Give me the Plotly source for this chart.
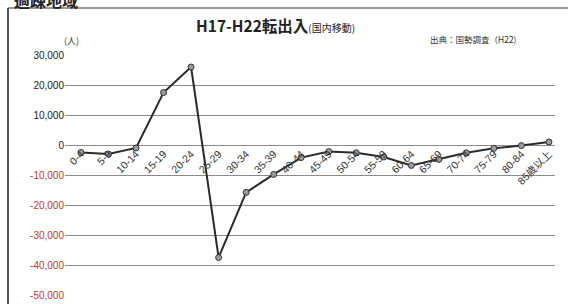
import plotly.graph_objects as go

categories = ["0-4", "5-9", "10-14", "15-19", "20-24", "25-29", "30-34", "35-39",
              "40-44", "45-49", "50-54", "55-59", "60-64", "65-69", "70-74",
              "75-79", "80-84", "85歳以上"]
values = [-2500, -3000, -1000, 17500, 26000, -37500, -15800, -9800,
          -4200, -2200, -2600, -4000, -6800, -4800, -2600, -1100, -200, 1000]

y_ticks = [30000, 20000, 10000, 0, -10000, -20000, -30000, -40000, -50000]
y_tick_labels = ["30,000", "20,000", "10,000", "0", "-10,000", "-20,000",
                 "-30,000", "-40,000", "-50,000"]

ticktext = [
    (f"<span style='color:#c0392b'>{t}</span>" if v < 0 else t)
    for v, t in zip(y_ticks, y_tick_labels)
]

fig = go.Figure()
fig.add_trace(go.Scatter(
    x=list(range(len(categories))), y=values, mode="lines+markers",
    line=dict(color="#2b2b2b", width=2),
    marker=dict(size=6, color="#9a9a9a", line=dict(color="#333", width=1)),
    hoverinfo="skip", showlegend=False,
))

W, H = 568, 304
L, R, T, B = 65, 13, 55, 9
pw, ph = W - L - R, H - T - B

def px(x):
    return (x - L) / pw

def py(y):
    return (H - B - y) / ph

fig.update_layout(
    width=W, height=H,
    margin=dict(l=L, r=R, t=T, b=B, autoexpand=False),
    paper_bgcolor="white", plot_bgcolor="white",
    font=dict(family="Liberation Sans, Noto Sans CJK JP", color="#333", size=10),
    xaxis=dict(
        range=[-0.58, 17.22], automargin=False,
        tickmode="array", tickvals=list(range(len(categories))), ticktext=categories,
        tickangle=-45, showgrid=False, zeroline=False, showline=False,
        anchor="free", position=50000 / 80000,
        tickfont=dict(size=10.5, color="#333", family="Liberation Sans, Noto Sans CJK JP"),
        ticks="",
    ),
    yaxis=dict(
        range=[-50000, 30000], automargin=False,
        tickmode="array", tickvals=y_ticks, ticktext=ticktext,
        showgrid=True, gridcolor="#8a8a8a", gridwidth=1,
        zeroline=False, showline=False, ticks="",
        tickfont=dict(size=10, color="#222"),
    ),
)

fig.add_annotation(
    xref="paper", yref="paper", x=px(194), y=py(25), xanchor="left", yanchor="middle",
    text="<b>H17-H22転出入</b><span style='font-size:10px'>(国内移動)</span>",
    showarrow=False, font=dict(size=15.5, family="Noto Sans CJK JP", color="#222"),
)
fig.add_annotation(
    xref="paper", yref="paper", x=px(62), y=py(40), xanchor="left", yanchor="middle",
    text="(人)", showarrow=False, font=dict(size=9, family="Noto Sans CJK JP", color="#333"),
)
fig.add_annotation(
    xref="paper", yref="paper", x=px(428), y=py(39), xanchor="left", yanchor="middle",
    text="出典：国勢調査（H22)", showarrow=False,
    font=dict(size=8.5, family="Noto Sans CJK JP", color="#333"),
)
fig.add_annotation(
    xref="paper", yref="paper", x=px(12), y=py(0), xanchor="left", yanchor="middle",
    text="<b>過疎地域</b>", showarrow=False,
    font=dict(size=16, family="Noto Sans CJK JP", color="#222"),
)

# frame lines
fig.add_shape(type="line", xref="paper", yref="paper",
              x0=px(8), x1=px(568), y0=py(8), y1=py(8),
              line=dict(color="#777", width=1.5))
fig.add_shape(type="line", xref="paper", yref="paper",
              x0=px(8), x1=px(8), y0=py(8), y1=py(304),
              line=dict(color="#555", width=2))

fig.write_html("out.html", config={"displayModeBar": False},
               post_script="document.body.style.margin='0';")
